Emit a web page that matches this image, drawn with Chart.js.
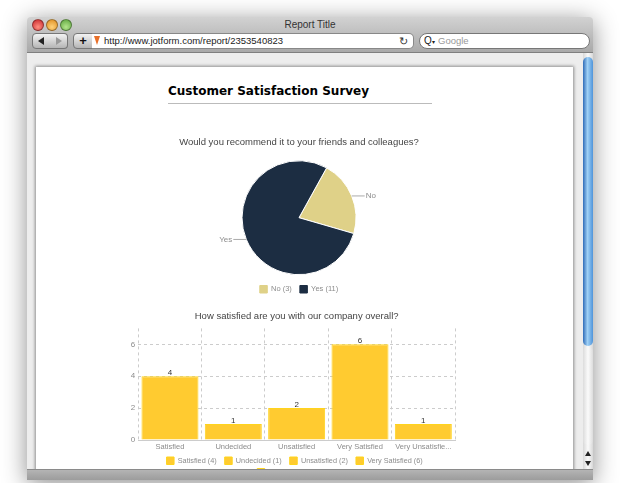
<!DOCTYPE html>
<html>
<head>
<meta charset="utf-8">
<title>Report Title</title>
<script src="https://cdn.jsdelivr.net/npm/chart.js@4/dist/chart.umd.min.js"></script>
<style>
  html,body{margin:0;padding:0;background:#fff;width:620px;height:483px;overflow:hidden;font-family:"Liberation Sans",Arial,sans-serif}
  .win{position:absolute;left:27px;top:17px;width:566px;height:463px;background:#ededed;box-shadow:0 4px 24px rgba(0,0,0,.45);border-radius:4px 4px 0 0;overflow:hidden}
  .bar{position:absolute;left:0;top:0;width:566px;height:35px;background:linear-gradient(#d2d2d2,#a9a9a9);border-bottom:1px solid #7f7f7f}
  .ttl{position:absolute;left:0;width:566px;top:1px;text-align:center;font-size:10px;line-height:14px;color:#333}
  .dot{position:absolute;top:2px;width:10px;height:10px;border-radius:50%;border:.5px solid rgba(0,0,0,.35)}
  .btn{position:absolute;top:16px;height:14px;border:1px solid #777;background:linear-gradient(#f3f3f3,#b5b5b5);box-sizing:content-box}
  .addr{position:absolute;left:65px;top:16px;width:321px;height:14px;border:1px solid #888;border-left:none;border-radius:0 5px 5px 0;background:#fff;font-size:9.5px;line-height:14px;color:#222}
  .search{position:absolute;left:392px;top:16px;width:169px;height:14px;border:1px solid #777;border-radius:8px;background:#fff;font-size:9.5px;line-height:14px;color:#999}
  .tri{position:absolute;width:0;height:0;border-style:solid}
  .paper{position:absolute;left:9px;top:50px;width:537px;height:420px;background:#fff;box-shadow:0 0 3px 1px rgba(0,0,0,.4)}
  .track{position:absolute;left:556px;top:36px;width:10px;height:416px;background:linear-gradient(90deg,#d8d8d8,#fafafa,#d8d8d8)}
  .thumb{position:absolute;left:0;top:4px;width:10px;height:289px;border-radius:5px;background:linear-gradient(90deg,#2f6cb8,#9fd0f5 45%,#4f94da)}
  .thumbg{position:absolute;left:0;top:294px;width:10px;height:98px;border-radius:5px;background:linear-gradient(90deg,#dcdcdc,#fbfbfb,#dcdcdc)}
  .foot{position:absolute;left:27px;top:469px;width:566px;height:11px;background:linear-gradient(#b4b4b4,#9c9c9c);border-top:1px solid #8a8a8a;box-sizing:border-box;z-index:5}
  h1{position:absolute;left:168px;top:84px;margin:0;font:bold 12px "DejaVu Sans",Verdana,sans-serif;color:#000;line-height:15px;white-space:nowrap}
  .rule{position:absolute;left:168px;top:103px;width:264px;height:1px;background:#bbb}
  canvas{position:absolute}
</style>
</head>
<body>
<div class="win">
  <div class="paper"></div>
  <div class="bar">
    <div class="ttl">Report Title</div>
    <div class="dot" style="left:5px;background:radial-gradient(circle at 50% 70%,#ff8f80,#c8242a)"></div>
    <div class="dot" style="left:19px;background:radial-gradient(circle at 50% 70%,#ffd27a,#dd8a1c)"></div>
    <div class="dot" style="left:33px;background:radial-gradient(circle at 50% 70%,#b4e58c,#5ba33c)"></div>
    <div class="btn" style="left:5px;width:17px;border-radius:4px 0 0 4px"><div class="tri" style="left:5px;top:3px;border-width:4px 6px 4px 0;border-color:transparent #222 transparent transparent"></div></div>
    <div class="btn" style="left:23px;width:17px;border-left:none;border-radius:0 4px 4px 0"><div class="tri" style="left:6px;top:3px;border-width:4px 0 4px 6px;border-color:transparent transparent transparent #999"></div></div>
    <div class="btn" style="left:46px;width:18px;border-radius:4px 0 0 4px;font:bold 13px/13px 'Liberation Sans';text-align:center;color:#111">+</div>
    <div class="addr">
      <div class="tri" style="left:2px;top:2px;border-width:9px 3px 0 3px;border-color:#e8702a transparent transparent transparent"></div>
      <span style="position:absolute;left:12px">http://www.jotform.com/report/2353540823</span>
      <span style="position:absolute;right:5px;font-size:11px;color:#333">&#8635;</span>
    </div>
    <div class="search">
      <span style="position:absolute;left:4px;color:#222;font-size:10px">Q<span style="font-size:6px">&#9662;</span></span>
      <span style="position:absolute;left:18px">Google</span>
    </div>
  </div>
  <div class="track">
    <div class="thumb"></div>
    <div class="thumbg"></div>
    <div class="tri" style="left:2px;top:398px;border-width:0 3px 5px 3px;border-color:transparent transparent #222 transparent"></div>
    <div class="tri" style="left:2px;top:408px;border-width:5px 3px 0 3px;border-color:#222 transparent transparent transparent"></div>
  </div>
</div>
<h1>Customer Satisfaction Survey</h1>
<div class="rule"></div>
<canvas id="pie" width="350" height="172" style="left:124px;top:131px;width:350px;height:172px"></canvas>
<canvas id="bars" width="350" height="181" style="left:122px;top:305px;width:350px;height:181px"></canvas>
<div class="foot"></div>
<script>
const pieQuestion = "Would you recommend it to your friends and colleagues?";
const pieLabels = ["No", "Yes"];
const pieValues = [3, 11];
const pieColors = ["#dfd188", "#1c2d42"];

const barQuestion = "How satisfied are you with our company overall?";
const barLabels = ["Satisfied", "Undecided", "Unsatisfied", "Very Satisfied", "Very Unsatisfied"];
const barTicks = ["Satisfied", "Undecided", "Unsatisfied", "Very Satisfied", "Very Unsatisfie..."];
const barValues = [4, 1, 2, 6, 1];
const yTicks = [0, 2, 4, 6];

const SANS = "'Liberation Sans', Arial, sans-serif";
const GREY = "#8c8c8c";
const RULE = "#cccccc";
const DASH = [3, 3];
const FILL = "#ffcb30";
const EDGE = "#ffd41c";

// Horizontal leader lines and slice names beside the pie
const sliceCallouts = {
  id: "sliceCallouts",
  afterDatasetsDraw(chart) {
    const { ctx } = chart;
    chart.getDatasetMeta(0).data.forEach((arc, i) => {
      const p = arc.getProps(["x", "y", "startAngle", "endAngle", "outerRadius"]);
      const mid = (p.startAngle + p.endAngle) / 2;
      const ex = p.x + Math.cos(mid) * p.outerRadius;
      const ey = p.y + Math.sin(mid) * p.outerRadius;
      const right = Math.cos(mid) >= 0;
      const tail = right ? ex + 13 : ex - 13;
      ctx.save();
      ctx.strokeStyle = "#aaa";
      ctx.lineWidth = 1;
      ctx.beginPath();
      ctx.moveTo(ex, ey);
      ctx.lineTo(tail, ey);
      ctx.stroke();
      ctx.fillStyle = GREY;
      ctx.font = "8px " + SANS;
      ctx.textBaseline = "middle";
      ctx.textAlign = right ? "left" : "right";
      ctx.fillText(pieLabels[i], tail + (right ? 1 : -1), ey);
      ctx.restore();
    });
  }
};

// Count printed on top of every bar
const barCounts = {
  id: "barCounts",
  afterDatasetsDraw(chart) {
    const { ctx } = chart;
    chart.getDatasetMeta(0).data.forEach((bar, i) => {
      ctx.save();
      ctx.fillStyle = "#333";
      ctx.font = "8px " + SANS;
      ctx.textAlign = "center";
      ctx.textBaseline = "bottom";
      ctx.fillText(String(barValues[i]), bar.x, bar.y + 0.5);
      ctx.restore();
    });
  }
};

// Legend entries read "Name (count)"; trailing spaces widen the gap between
// entries without widening the gap between rows.
function legendItems(names, values, colors, edge, tail) {
  return names.map((n, i) => ({
    text: n + " (" + values[i] + ")" + tail,
    fillStyle: colors[i],
    strokeStyle: edge ? edge[i] : colors[i],
    lineWidth: 1,
    fontColor: GREY,
    index: i
  }));
}

new Chart(document.getElementById("pie"), {
  type: "pie",
  data: {
    labels: pieLabels,
    datasets: [{ data: pieValues, backgroundColor: pieColors, borderColor: "#fff", borderWidth: 1, hoverOffset: 0, radius: 57 }]
  },
  options: {
    responsive: false,
    animation: false,
    rotation: 29,
    plugins: {
      tooltip: { enabled: false },
      title: { display: true, text: pieQuestion, color: "#444", font: { family: SANS, size: 9.5, weight: "normal" }, padding: { top: 5.5, bottom: 10 } },
      legend: {
        position: "bottom",
        labels: {
          boxWidth: 7.5, boxHeight: 7.5, padding: 8, color: GREY,
          font: { family: SANS, size: 7.5 },
          generateLabels: () => legendItems(pieLabels, pieValues, pieColors, null, "")
        }
      }
    }
  },
  plugins: [sliceCallouts]
});

new Chart(document.getElementById("bars"), {
  type: "bar",
  data: {
    labels: barTicks,
    datasets: [{ data: barValues, backgroundColor: FILL, borderColor: EDGE, borderWidth: 1, categoryPercentage: 1, barPercentage: 0.9 }]
  },
  options: {
    responsive: false,
    animation: false,
    layout: { padding: { left: 0.3, right: 17, top: 0, bottom: 0 } },
    scales: {
      x: {
        grid: { color: RULE, drawTicks: false },
        border: { color: RULE, dash: DASH },
        ticks: { color: GREY, font: { family: SANS, size: 7.5 }, autoSkip: false, maxRotation: 0, padding: 2 },
        afterFit: s => { s.height = 13; }
      },
      y: {
        min: 0, max: 7,
        afterBuildTicks: s => { s.ticks = yTicks.map(v => ({ value: v })); },
        grid: { color: RULE, drawTicks: false },
        border: { display: false, dash: DASH },
        ticks: { color: GREY, font: { family: SANS, size: 8 }, padding: 3 },
        afterFit: s => { s.width = 16; }
      }
    },
    plugins: {
      tooltip: { enabled: false },
      // Title and legend span the plot only, so they centre on it
      title: { display: true, fullSize: false, text: barQuestion, color: "#444", font: { family: SANS, size: 9.5, weight: "normal" }, padding: { top: 6, bottom: 6 } },
      legend: {
        position: "bottom",
        fullSize: false,
        maxWidth: 300,
        labels: {
          boxWidth: 7.5, boxHeight: 7.5, padding: 4, color: GREY,
          font: { family: SANS, size: 7.3 },
          generateLabels: () => legendItems(barLabels, barValues, barLabels.map(() => FILL), barLabels.map(() => EDGE), "  ")
        }
      }
    }
  },
  plugins: [barCounts]
});
</script>
</body>
</html>
